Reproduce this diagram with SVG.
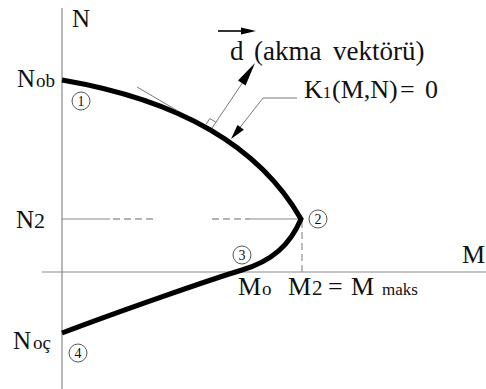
<svg xmlns="http://www.w3.org/2000/svg" width="486" height="389" viewBox="0 0 486 389">
<style>
.ax{stroke:#8a8a8a;stroke-width:1.2;fill:none}
.thin{stroke:#777;stroke-width:1;fill:none}
.dash{stroke:#999;stroke-width:1.3;fill:none;stroke-dasharray:7,4}
.curve{stroke:#000;stroke-width:5;fill:none;stroke-linejoin:miter;stroke-miterlimit:8}
.circ{stroke:#444;stroke-width:0.9;fill:#fff}
</style>
<g id="axes">
<line class="ax" x1="62" y1="8" x2="62" y2="389"/>
<line class="ax" x1="42" y1="272" x2="486" y2="272"/>
</g>
<g id="guides">
<line class="ax" x1="62" y1="219" x2="110" y2="219"/>
<line class="dash" x1="113" y1="219" x2="153" y2="219"/>
<line class="dash" x1="212" y1="219" x2="250" y2="219"/>
<line class="ax" x1="250" y1="219" x2="300" y2="219"/>
<line class="dash" x1="302" y1="221" x2="302" y2="272"/>
</g>
<g id="curve">
<path class="curve" d="M62,80 C150,95 250,130 301,219 C290,245 272,261 242,270 S120,311 62,333"/>
</g>
<g id="connectors">
<line class="thin" x1="137" y1="87" x2="178" y2="111"/>
<polyline class="thin" points="206,124.4 209.8,118.5 215.8,122.1"/>
<line class="thin" x1="212" y1="128" x2="243" y2="82"/>
<polygon points="255,63 245.6,85.6 238,80.6" fill="#000"/>
<polyline class="thin" points="297,98 263,98 238,130"/>
<polygon points="231,139 243.9,129.7 237.5,124.9" fill="#000"/>
<line stroke="#000" stroke-width="1.6" x1="218" y1="31" x2="244" y2="31"/>
<polygon points="256,31 241,27.5 241,34.5" fill="#000"/>
</g>
<g font-family="Liberation Serif, Times New Roman, DejaVu Serif, serif" fill="#111">
<g id="p1"><circle class="circ" cx="81" cy="101" r="9"/><text font-size="14" x="81" y="106" text-anchor="middle">1</text></g>
<g id="p2"><circle class="circ" cx="318" cy="219" r="9"/><text font-size="14" x="318" y="224" text-anchor="middle">2</text></g>
<g id="p3"><circle class="circ" cx="242" cy="255" r="9"/><text font-size="14" x="242" y="260" text-anchor="middle">3</text></g>
<g id="p4"><circle class="circ" cx="78" cy="353" r="9"/><text font-size="14" x="78" y="358" text-anchor="middle">4</text></g>
<g id="labels" font-size="25">
<text x="72" y="27">N</text>
<text x="17" y="87">N<tspan x="36" font-size="19">ob</tspan></text>
<text x="16" y="228">N<tspan x="34" font-size="22">2</tspan></text>
<text x="13" y="349">N<tspan x="33" font-size="19">oç</tspan></text>
<text x="462" y="263" font-size="26">M</text>
<text x="238" y="295" font-size="26">M<tspan x="262" font-size="19">o</tspan></text>
<text x="288" y="295" font-size="26">M<tspan x="312" font-size="21">2</tspan><tspan x="328">=</tspan><tspan x="351">M</tspan><tspan x="382" font-size="17">maks</tspan></text>
<text x="230" y="60" font-size="27">d<tspan x="254">(akma</tspan><tspan x="333">vektörü)</tspan></text>
<text x="304" y="98" font-size="26">K<tspan font-size="17">1</tspan><tspan x="332">(M,N)</tspan><tspan x="400">=</tspan><tspan x="425">0</tspan></text>
</g>
</g>
</svg>
